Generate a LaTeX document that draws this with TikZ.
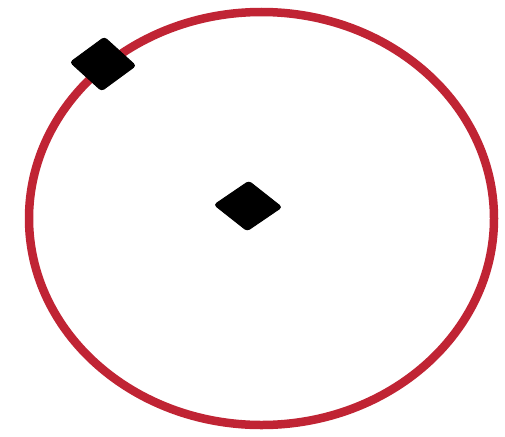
\documentclass[tikz,border=0pt]{standalone}
\usetikzlibrary{shapes.geometric}
\definecolor{ringred}{RGB}{192,36,52}
\begin{document}
\begin{tikzpicture}[x=1pt,y=1pt,
  ring/.style={draw=ringred,line width=8.5pt},
  marker/.style={shape=diamond,fill=black,draw=black,line width=1pt,inner sep=0pt,rounded corners=3pt}]
\useasboundingbox[fill=white] (0,0) rectangle (505,-436);
\draw[ring] (261.5,-218.5) ellipse [x radius=232.5, y radius=206.5];
\node[marker,minimum width=68pt,minimum height=50pt,rotate=-2] (center) at (248,-206) {};
\node[marker,minimum width=66pt,minimum height=54pt,rotate=-3] (edge) at (103,-64) {};
\end{tikzpicture}
\end{document}
